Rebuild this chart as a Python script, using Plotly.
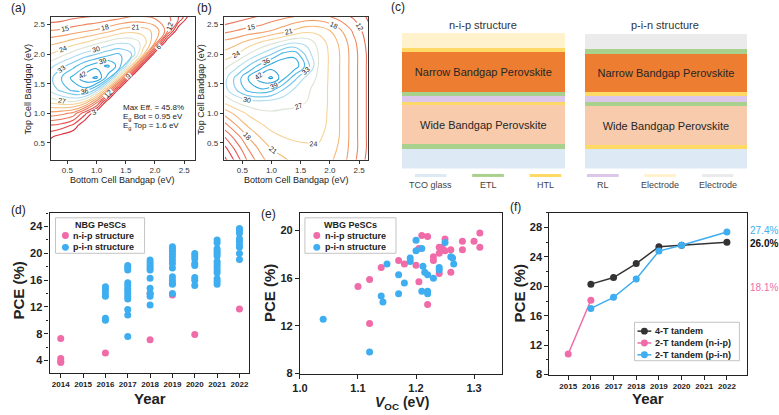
import plotly.graph_objects as go

W, H = 779, 415
def px(x): return x / W
def py(y): return 1 - y / H

FONT = "Liberation Sans, Arial, sans-serif"
PINK = "#f06ca8"
BLUE = "#3faef0"
DARK = "#333333"

# ---------------- (a)/(b) efficiency maps ----------------
bottom_gap = [0.2, 0.4, 0.6, 0.8, 1.0, 1.2, 1.4, 1.6, 1.8, 2.0, 2.2, 2.4, 2.6, 2.8]
top_gap = [0.2, 0.4, 0.6, 0.8, 1.0, 1.2, 1.4, 1.6, 1.8, 2.0, 2.2, 2.4, 2.6, 2.8]

eff_a = [
    [0, -2, -5, -20, -40, -40, -40, -40, -40, -40, -40, -40, -40, -40],
    [1.5, 0, -1.5, -5, -20, -40, -40, -40, -40, -40, -40, -40, -40, -40],
    [3.5, 1.5, 0, -1.5, -6, -20, -40, -40, -40, -40, -40, -40, -40, -40],
    [9, 8, 5.5, 0, -5.5, -20, -40, -40, -40, -40, -40, -40, -40, -40],
    [17, 16, 14, 7, 0, -7, -25, -40, -40, -40, -40, -40, -40, -40],
    [25, 26.5, 27, 24, 14, 0, -14, -30, -40, -40, -40, -40, -40, -40],
    [31, 34, 37, 38, 32, 18, 0, -18, -35, -40, -40, -40, -40, -40],
    [32, 36, 40, 44, 45.5, 37, 21, 0, -21, -40, -40, -40, -40, -40],
    [29, 32, 35, 38.5, 41, 42.5, 37, 23, 0, -23, -40, -40, -40, -40],
    [24, 26, 28.5, 31, 33, 35, 36, 33, 22, 0, -22, -40, -40, -40],
    [20, 21, 22.5, 24, 26, 28, 29.5, 29, 26, 18, 0, -18, -40, -40],
    [15, 15.5, 16.5, 17.5, 18.5, 20, 22, 23, 22.5, 20, 14, 0, -14, -40],
    [10.5, 11, 12, 12.5, 13, 14, 15, 16, 16, 15, 13.5, 9, 0, -9],
    [7, 7.5, 8, 8.5, 9, 9.5, 10, 10.5, 10.5, 10.5, 10, 8.5, 5, 0],
]

eff_b = [
    [2, 7, 12.5, 16.5, 19.5, 20.5, 21.5, 22.5, 22.5, 21.5, 19.5, 16, 12, 8],
    [5, 10, 15, 18.5, 21, 22, 23, 23.5, 23.5, 22.5, 20, 16.5, 12.5, 8.5],
    [9, 13.5, 18, 21, 23, 24, 24.5, 24.5, 24.5, 23, 20.5, 16.5, 12.5, 8.5],
    [14, 18, 21.5, 23.5, 25, 25.5, 25.5, 25, 25, 23.5, 20.5, 16.5, 12.5, 8.5],
    [19, 22, 24.5, 26, 26.5, 26.5, 26.5, 26, 25.5, 23.5, 20.5, 16.5, 12.5, 8.5],
    [25, 27.5, 29, 29.5, 29, 28, 27.5, 27, 26, 23.5, 20.5, 16.5, 12.5, 8.5],
    [29, 33, 37, 38.5, 37, 33, 29.5, 27.5, 26, 23.5, 20.5, 16.5, 12.5, 8.5],
    [29, 34, 39, 43.5, 45.5, 40, 34, 29, 26.5, 23.5, 20.5, 16.5, 12.5, 8.5],
    [26, 29, 33, 37, 40.5, 42, 41, 35, 27, 23.5, 20.5, 16.5, 12.5, 8.5],
    [22, 24, 27, 30, 33, 37, 38, 32, 27, 23.5, 20.5, 16.5, 12.5, 8.5],
    [19, 20, 22, 24, 26, 28, 29.5, 29, 26, 23, 20, 16, 12, 8],
    [14, 15, 16, 16.5, 18, 19.5, 21.5, 23, 23, 21, 18, 14.5, 11, 7.5],
    [10, 11, 12, 13, 14, 15, 16, 17, 17, 16, 14, 12, 9.5, 6.5],
    [6, 7, 8, 9, 9.5, 10, 10.5, 11, 11, 11, 10, 9, 7.5, 5.5],
]

contour_scale = [
    [0.0, "#d9343f"], [0.15, "#e65a52"], [0.3, "#f08a5e"], [0.42, "#f5b676"],
    [0.52, "#f6dca2"], [0.6, "#cde9f1"], [0.68, "#8fd0ee"], [0.8, "#45b4e6"], [1.0, "#1597d6"],
]

# ---------------- (c) device stacks (bottom -> top, thickness in arbitrary units) ----------------
nip_layers = ["TCO glass", "ETL", "Wide Bandgap Perovskite", "HTL", "RL", "ETL",
              "Narrow Bandgap Perovskite", "HTL", "Electrode"]
nip_thick = [20, 5, 39, 4, 6, 4, 40, 4, 16]
pin_layers = ["TCO glass", "HTL", "Wide Bandgap Perovskite", "ETL", "RL", "HTL",
              "Narrow Bandgap Perovskite", "ETL", "Electrode (Ag)"]
pin_thick = [20, 4, 39, 5, 6, 4, 38, 5, 15]
layer_colors = {
    "TCO glass": "#dde9f5", "ETL": "#a9d18e", "HTL": "#ffd966", "RL": "#dcc6ea",
    "Wide Bandgap Perovskite": "#f8cbad", "Narrow Bandgap Perovskite": "#ed7d31",
    "Electrode": "#fff2cc", "Electrode (Ag)": "#ebebeb",
}
legend_c_names = ["TCO glass", "ETL", "HTL", "RL", "Electrode", "Electrode"]
legend_c_colors = ["#dde9f5", "#a9d18e", "#ffd966", "#dcc6ea", "#fff2cc", "#ebebeb"]

# ---------------- (d) NBG PeSCs ----------------
nbg_nip_year = [2014, 2014, 2014, 2014, 2016, 2018, 2018, 2019, 2019, 2020, 2022]
nbg_nip_pce = [7.3, 4.3, 3.9, 3.7, 5.1, 14.0, 7.1, 15.5, 13.8, 7.9, 11.7]
nbg_pin_year = ([2016] * 6 + [2017] * 13 + [2018] * 10 + [2019] * 12 + [2020] * 8
                + [2021] * 14 + [2022] * 9)
nbg_pin_pce = [15.0, 14.6, 14.1, 13.6, 10.3, 10.0,
               18.2, 17.9, 17.5, 15.6, 15.2, 14.8, 14.4, 14.0, 13.6, 13.2, 11.6, 10.8, 7.6,
               19.0, 18.6, 18.2, 17.8, 17.5, 16.3, 14.8, 14.0, 13.6, 12.3,
               21.0, 20.7, 20.3, 19.9, 19.5, 19.0, 18.5, 17.8, 16.5, 16.0, 15.4, 14.0,
               20.0, 19.6, 19.2, 18.5, 18.2, 16.4, 16.0, 15.2,
               22.0, 21.6, 20.7, 20.3, 20.0, 19.6, 18.8, 18.4, 18.0, 17.5, 17.1, 16.2, 15.8, 15.4,
               23.7, 23.4, 23.0, 22.2, 21.8, 21.3, 20.9, 20.0, 19.1]

# ---------------- (e) WBG PeSCs ----------------
wbg_nip_voc = [1.10, 1.12, 1.12, 1.14, 1.17, 1.18, 1.20, 1.205, 1.205, 1.21, 1.22, 1.22, 1.23,
               1.23, 1.24, 1.24, 1.245, 1.24, 1.25, 1.25, 1.26, 1.26, 1.28, 1.28, 1.30, 1.31, 1.31]
wbg_nip_pce = [15.3, 15.9, 12.2, 16.9, 17.5, 17.2, 17.1, 15.7, 18.5, 19.6, 19.5, 13.8, 17.8,
               17.5, 18.1, 18.6, 18.6, 16.4, 19.3, 18.3, 18.4, 16.5, 19.1, 18.4, 19.1, 19.8, 18.6]
wbg_pin_voc = [1.04, 1.12, 1.14, 1.143, 1.15, 1.17, 1.17, 1.18, 1.19, 1.19, 1.20, 1.20, 1.21,
               1.21, 1.212, 1.215, 1.22, 1.22, 1.22, 1.23, 1.24, 1.24, 1.25, 1.26, 1.263, 1.265]
wbg_pin_pce = [12.55, 9.8, 14.5, 14.0, 17.2, 16.3, 14.7, 15.6, 17.7, 17.4, 19.2, 18.3, 18.5,
               14.9, 17.0, 16.5, 16.3, 14.9, 14.7, 16.0, 16.9, 16.7, 19.0, 17.8, 17.7, 17.2]

# ---------------- (f) tandem progress ----------------
t4_year = [2016, 2017, 2018, 2019, 2020, 2022]
t4_pce = [20.3, 21.2, 23.1, 25.4, 25.6, 26.0]
t2_nip_year = [2015, 2016]
t2_nip_pce = [10.8, 18.1]
t2_pin_year = [2016, 2017, 2018, 2019, 2020, 2022]
t2_pin_pce = [17.0, 18.5, 21.0, 24.8, 25.6, 27.4]

fig = go.Figure()

for z, xa, ya in [(eff_a, "x", "y"), (eff_b, "x2", "y2")]:
    fig.add_trace(go.Contour(
        x=bottom_gap, y=top_gap, z=z, xaxis=xa, yaxis=ya,
        colorscale=contour_scale, zmin=0, zmax=46, showscale=False,
        contours=dict(start=3, end=45, size=3, coloring="lines", showlabels=True,
                      labelfont=dict(size=7, color="#222", family=FONT)),
        line=dict(width=1.1, smoothing=1.3), hoverinfo="skip",
    ))

for layers, thick, cat in [(nip_layers, nip_thick, "n-i-p structure"),
                           (pin_layers, pin_thick, "p-i-n structure")]:
    for name, t in zip(layers, thick):
        kw = {}
        if "Perovskite" in name:
            kw = dict(text=[name], textposition="inside", insidetextanchor="middle", textangle=0,
                      textfont=dict(size=11, color="#262626", family=FONT))
        fig.add_trace(go.Bar(
            x=[cat], y=[t], xaxis="x3", yaxis="y3", marker=dict(color=layer_colors[name], line_width=0),
            showlegend=False, hoverinfo="skip", **kw,
        ))

fig.add_trace(go.Scatter(x=nbg_nip_year, y=nbg_nip_pce, mode="markers", name="n-i-p structure",
                         xaxis="x4", yaxis="y4", marker=dict(size=7, color=PINK)))
fig.add_trace(go.Scatter(x=nbg_pin_year, y=nbg_pin_pce, mode="markers", name="p-i-n structure",
                         xaxis="x4", yaxis="y4", marker=dict(size=7, color=BLUE)))

fig.add_trace(go.Scatter(x=wbg_nip_voc, y=wbg_nip_pce, mode="markers", name="n-i-p structure",
                         xaxis="x5", yaxis="y5", marker=dict(size=7, color=PINK)))
fig.add_trace(go.Scatter(x=wbg_pin_voc, y=wbg_pin_pce, mode="markers", name="p-i-n structure",
                         xaxis="x5", yaxis="y5", marker=dict(size=7, color=BLUE)))

fig.add_trace(go.Scatter(x=t4_year, y=t4_pce, mode="lines+markers", name="4-T tandem",
                         xaxis="x6", yaxis="y6", line=dict(color=DARK, width=1.5),
                         marker=dict(size=7, color=DARK)))
fig.add_trace(go.Scatter(x=t2_nip_year, y=t2_nip_pce, mode="lines+markers", name="2-T tandem (n-i-p)",
                         xaxis="x6", yaxis="y6", line=dict(color=PINK, width=1.5),
                         marker=dict(size=7, color=PINK)))
fig.add_trace(go.Scatter(x=t2_pin_year, y=t2_pin_pce, mode="lines+markers", name="2-T tandem (p-i-n)",
                         xaxis="x6", yaxis="y6", line=dict(color=BLUE, width=1.5),
                         marker=dict(size=7, color=BLUE)))

map_ax = dict(showgrid=False, zeroline=False, showline=True, linecolor="#333", linewidth=1, mirror=True,
              ticks="outside", ticklen=3, tickwidth=1, tickcolor="#333",
              tickfont=dict(size=8, color="#333", family=FONT))
map_ticks = dict(tickvals=[0.5, 1.0, 1.5, 2.0, 2.5], ticktext=["0.5", "1.0", "1.5", "2.0", "2.5"])

bold_ax = dict(showgrid=False, zeroline=False, showline=True, linecolor="#222", linewidth=1.2, mirror=True,
               ticks="outside", ticklen=4, tickwidth=1, tickcolor="#222",
               tickfont=dict(size=11, color="#222", family=FONT, weight="bold"))
small_bold = dict(size=8, color="#222", family=FONT, weight="bold")

layout = dict(
    width=W, height=H, margin=dict(l=0, r=0, t=0, b=0), showlegend=False,
    paper_bgcolor="white", plot_bgcolor="white", font=dict(family=FONT, color="#222"),
    barmode="stack", bargap=0.11,
    xaxis=dict(domain=[px(43), px(189)], range=[0.212, 2.686], anchor="y", **map_ticks, **map_ax),
    yaxis=dict(domain=[py(162), py(17)], range=[0.217, 2.633], anchor="x", **map_ticks, **map_ax),
    xaxis2=dict(domain=[px(218), px(364)], range=[0.183, 2.658], anchor="y2", **map_ticks, **map_ax),
    yaxis2=dict(domain=[py(162), py(17)], range=[0.217, 2.633], anchor="x2", **map_ticks, **map_ax),
    xaxis3=dict(domain=[px(388), px(757)], range=[-0.5, 1.5], anchor="y3", visible=False),
    yaxis3=dict(domain=[py(171), py(33)], range=[0, 138], anchor="x3", visible=False),
    xaxis4=dict(domain=[px(42), px(244)], range=[2013.5, 2022.45], anchor="y4",
                tickvals=list(range(2014, 2023)), **{**bold_ax, "tickfont": small_bold}),
    yaxis4=dict(domain=[py(378), py(216)], range=[2.2, 26.05], anchor="x4",
                tickvals=[4, 8, 12, 16, 20, 24], minor=dict(dtick=2, ticks="outside", ticklen=2, tickcolor="#222"),
                **bold_ax),
    xaxis5=dict(domain=[px(295), px(499)], range=[1.0, 1.348], anchor="y5",
                tickvals=[1.0, 1.1, 1.2, 1.3], ticktext=["1.0", "1.1", "1.2", "1.3"], **bold_ax),
    yaxis5=dict(domain=[py(379), py(216)], range=[8, 21.49], anchor="x5",
                tickvals=[8, 12, 16, 20], **bold_ax),
    xaxis6=dict(domain=[px(547), px(747)], range=[2014.17, 2022.9], anchor="y6",
                tickvals=list(range(2015, 2023)), **{**bold_ax, "tickfont": small_bold}),
    yaxis6=dict(domain=[py(380), py(216)], range=[8, 30.0], anchor="x6",
                tickvals=[8, 12, 16, 20, 24, 28], minor=dict(dtick=2, ticks="outside", ticklen=2, tickcolor="#222"),
                **bold_ax),
)
fig.update_layout(**layout)

ann = []
shapes = []
def label(text, x, y, size=12, xanchor="center", **kw):
    ann.append(dict(text=text, x=px(x), y=py(y), xref="paper", yref="paper", showarrow=False,
                    xanchor=xanchor, yanchor="middle", borderpad=0,
                    font=dict(size=size, family=FONT, color=kw.pop("color", "#222"), weight=kw.pop("weight", "normal")),
                    **kw))

def box(x0, y0, x1, y1):
    shapes.append(dict(type="rect", xref="paper", yref="paper", x0=px(x0), x1=px(x1), y0=py(y1), y1=py(y0),
                       line=dict(color="#c4c4c4", width=1), fillcolor="white", layer="above"))

def dot(x, y, col, r=3.5):
    shapes.append(dict(type="circle", xref="paper", yref="paper", x0=px(x - r), x1=px(x + r),
                       y0=py(y + r), y1=py(y - r), line=dict(color=col, width=0), fillcolor=col, layer="above"))

def seg(x0, x1, y, col, w=1.5):
    shapes.append(dict(type="line", xref="paper", yref="paper", x0=px(x0), x1=px(x1), y0=py(y), y1=py(y),
                       line=dict(color=col, width=w), layer="above"))

label("(a)", 2, 8, xanchor="left")
label("(b)", 190, 8, xanchor="left")
label("(c)", 386, 7, xanchor="left")
label("(d)", 2, 213, xanchor="left")
label("(e)", 255, 217, xanchor="left")
label("(f)", 506, 210, xanchor="left")

label("Top Cell Bandgap (eV)", 20, 90, size=9, textangle=-90)
label("Bottom Cell Bandgap (eV)", 116, 183, size=9)
label("Top Cell Bandgap (eV)", 195, 90, size=9, textangle=-90)
label("Bottom Cell Bandgap (eV)", 291, 183, size=9)
label("Max Eff. = 45.8%", 115, 109, size=8, xanchor="left")
label("E<sub>g</sub> Bot = 0.95 eV", 115, 119, size=8, xanchor="left")
label("E<sub>g</sub> Top = 1.6 eV", 115, 128, size=8, xanchor="left")

label("n-i-p structure", 480, 25, size=11, color="#333")
label("p-i-n structure", 664, 25, size=11, color="#333")

for i, (nm, col) in enumerate(zip(legend_c_names, legend_c_colors)):
    cx = 427 + i * 58
    seg(cx - 16, cx + 16, 178, col, w=3)
    label(nm, cx, 188, size=9, color="#444")

# legends of (d), (e), (f)
for (bx0, bx1, title, mx) in [(48, 138, "NBG PeSCs", 58), (300, 392, "WBG PeSCs", 312)]:
    box(bx0, 221, bx1, 257)
    label(title, (bx0 + bx1) / 2, 228, size=9, weight="bold")
    for yy, col, nm in [(239, PINK, "n-i-p structure"), (251, BLUE, "p-i-n structure")]:
        dot(mx, yy, col)
        label(nm, mx + 7, yy, size=9, weight="bold", xanchor="left")

box(633, 327, 739, 366)
for yy, col, nm in [(336, DARK, "4-T tandem"), (348, PINK, "2-T tandem (n-i-p)"), (360, BLUE, "2-T tandem (p-i-n)")]:
    seg(636, 650, yy, col)
    dot(643, yy, col)
    label(nm, 653, yy, size=9, weight="bold", xanchor="left")

label("PCE (%)", 11, 295, size=15, weight="bold", textangle=-90)
label("Year", 143, 404, size=15, weight="bold")
label("PCE (%)", 264, 297, size=15, weight="bold", textangle=-90)
label("<i>V</i><sub>OC</sub> (eV)", 398, 409, size=14, weight="bold")
label("PCE (%)", 517, 298, size=15, weight="bold", textangle=-90)
label("Year", 647, 404, size=15, weight="bold")

label("27.4%", 764, 234, size=10, color=BLUE)
label("26.0%", 764, 247, size=10, weight="bold", color="#111")
label("18.1%", 764, 292, size=10, color=PINK)

fig.update_layout(annotations=ann, shapes=shapes)
fig.write_html("out.html", config={"displayModeBar": False},
               post_script="document.body.style.margin='0';document.body.style.overflow='hidden';")
